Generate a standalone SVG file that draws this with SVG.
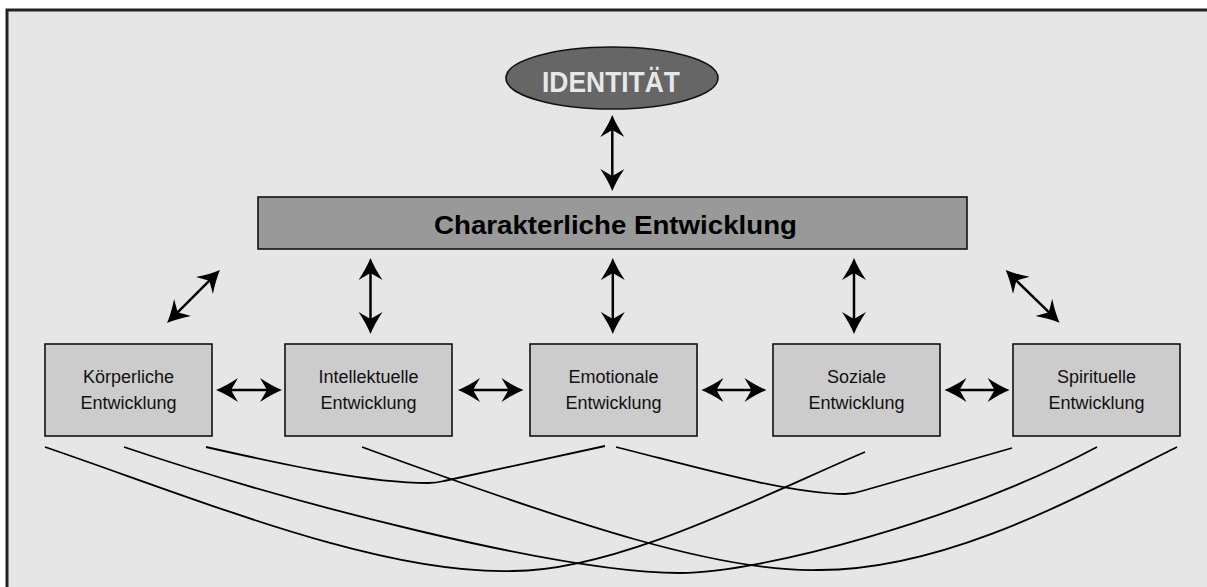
<svg xmlns="http://www.w3.org/2000/svg" width="1207" height="587" viewBox="0 0 1207 587">
<style>
.frame{fill:#e6e6e6;stroke:#222;stroke-width:3}
.box{fill:#cccccc;stroke:#111;stroke-width:1.6}
.lbl{font-family:"Liberation Sans",Arial,sans-serif;font-size:18px;fill:#111;text-anchor:middle}
.arr{stroke:#000;stroke-width:2.5;fill:none;marker-start:url(#ah);marker-end:url(#ah)}
.crv{stroke:#000;stroke-width:1.8;fill:none}
</style>
<defs>
<marker id="ah" markerUnits="userSpaceOnUse" viewBox="-14 -12 26 24" refX="0" refY="0" markerWidth="26" markerHeight="24" orient="auto-start-reverse">
<path d="M10,0 Q0,-4 -12,-12 L-5,0 L-12,12 Q0,4 10,0 Z" fill="#000"/>
</marker>
</defs>
<rect class="frame" x="7" y="10" width="1215" height="600"/>
<g id="identitaet">
<ellipse cx="612" cy="78" rx="106" ry="31" fill="#666666" stroke="#111" stroke-width="1.6"/>
<text x="611" y="91.5" font-family="Liberation Sans,Arial,sans-serif" font-weight="bold" font-size="30" fill="#e8e8e8" text-anchor="middle" textLength="138" lengthAdjust="spacingAndGlyphs">IDENTITÄT</text>
</g>
<g id="charakter">
<rect x="258" y="197" width="709" height="52" fill="#999999" stroke="#111" stroke-width="1.6"/>
<text x="615.5" y="234" font-family="Liberation Sans,Arial,sans-serif" font-weight="bold" font-size="26" fill="#000" text-anchor="middle" textLength="363" lengthAdjust="spacingAndGlyphs">Charakterliche Entwicklung</text>
</g>
<g id="koerper">
<rect class="box" x="45" y="344" width="167" height="92"/>
<text class="lbl" x="128.5" y="383">Körperliche</text>
<text class="lbl" x="128.5" y="409">Entwicklung</text>
</g>
<g id="intellekt">
<rect class="box" x="285" y="344" width="167" height="92"/>
<text class="lbl" x="368.5" y="383">Intellektuelle</text>
<text class="lbl" x="368.5" y="409">Entwicklung</text>
</g>
<g id="emotional">
<rect class="box" x="530" y="344" width="167" height="92"/>
<text class="lbl" x="613.5" y="383">Emotionale</text>
<text class="lbl" x="613.5" y="409">Entwicklung</text>
</g>
<g id="sozial">
<rect class="box" x="773" y="344" width="167" height="92"/>
<text class="lbl" x="856.5" y="383">Soziale</text>
<text class="lbl" x="856.5" y="409">Entwicklung</text>
</g>
<g id="spirituell">
<rect class="box" x="1013" y="344" width="167" height="92"/>
<text class="lbl" x="1096.5" y="383">Spirituelle</text>
<text class="lbl" x="1096.5" y="409">Entwicklung</text>
</g>
<g id="connectors">
<line class="arr" x1="612.3" y1="125" x2="612.3" y2="181"/>
<line class="arr" x1="370.5" y1="268" x2="370.5" y2="324"/>
<line class="arr" x1="612.8" y1="268" x2="612.8" y2="324"/>
<line class="arr" x1="854" y1="268" x2="854" y2="324"/>
<line class="arr" x1="174.1" y1="315.9" x2="212.9" y2="277.1"/>
<line class="arr" x1="1012.8" y1="277" x2="1052.4" y2="315.7"/>
<line class="arr" x1="226" y1="390" x2="272" y2="390"/>
<line class="arr" x1="468" y1="390" x2="513.5" y2="390"/>
<line class="arr" x1="711.4" y1="390" x2="756.5" y2="390"/>
<line class="arr" x1="954.5" y1="390" x2="999.6" y2="390"/>
<path class="crv" d="M45,447 C200,500 380,575 513,571 C620,571 770,492 865,452"/>
<path class="crv" d="M124,447 C290,503 560,573 680,573 C760,573 960,520 1097,447"/>
<path class="crv" d="M206,447 C290,466 370,483 428,483 Q436,483 444,481 L605,446"/>
<path class="crv" d="M616,447 C700,468 790,494 845,494 Q853,494 862,491 L1012,448"/>
<path class="crv" d="M362,447 C580,527 720,572 817,570 C950,571 1090,490 1177,447"/>
</g>
</svg>
